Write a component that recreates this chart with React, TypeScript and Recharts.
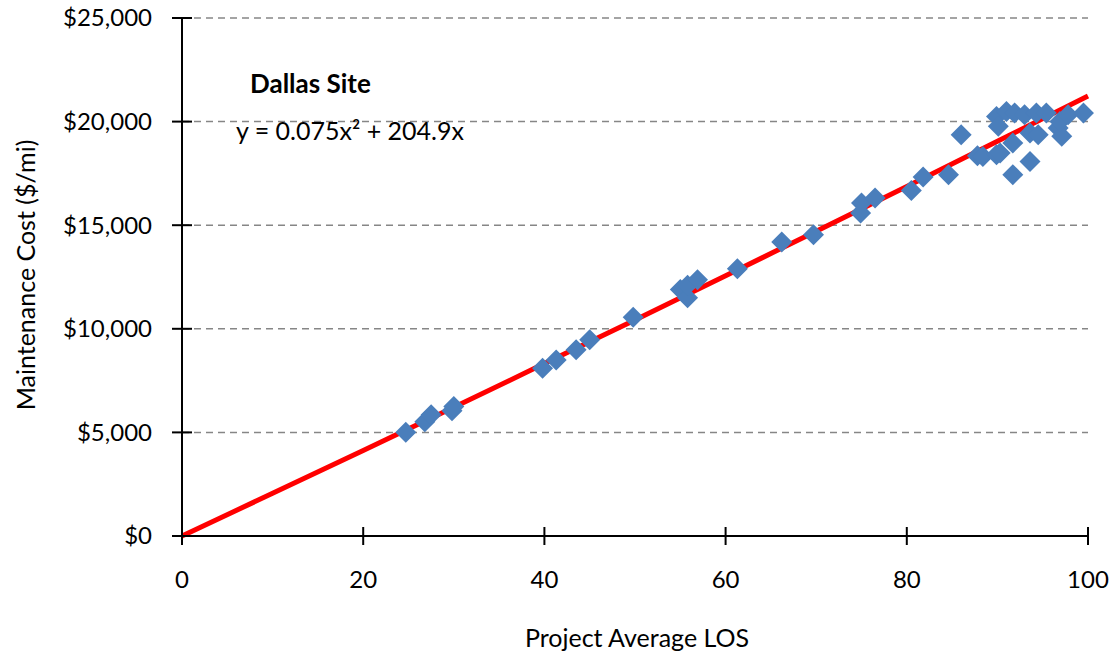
import {
  ScatterChart,
  Scatter,
  XAxis,
  YAxis,
  CartesianGrid,
} from 'recharts';

// project average LOS for each site
const losValues = [
  24.7, 26.8, 27.5, 29.8, 30.0, 39.8, 41.3, 43.5, 45.0, 49.8,
  55.0, 55.8, 55.8, 56.9, 61.3, 66.2, 69.7, 74.9, 75.0, 76.5,
  80.5, 81.8, 84.6, 86.0, 87.8, 88.4, 89.9, 90.3, 89.9, 90.1,
  91.0, 91.9, 91.7, 91.7, 93.0, 93.6, 93.6, 94.3, 94.5, 95.4,
  96.7, 97.1, 96.9, 97.8, 99.5,
];

// maintenance cost ($/mi)
const costValues = [
  5010, 5520, 5850, 6050, 6250, 8100, 8500, 8990, 9470, 10560,
  11900, 11500, 12100, 12370, 12900, 14190, 14540, 15590, 16070, 16310,
  16680, 17330, 17440, 19370, 18350, 18320, 18400, 18480, 20250, 19770,
  20490, 20420, 18970, 17440, 20330, 19450, 18080, 20420, 19370, 20420,
  19690, 19290, 20000, 20330, 20420,
];

// trend line as drawn (red)
const trendLos = [0, 10, 20, 30, 40, 50, 60, 70, 80, 90, 100];
const trendCost = [0, 2060, 4130, 6210, 8320, 10430, 12560, 14710, 16870, 19050, 21240];

const xTicks = [0, 20, 40, 60, 80, 100];
const yTicks = [0, 5000, 10000, 15000, 20000, 25000];

const points = losValues.map((x, i) => ({ x, y: costValues[i] }));
const trend = trendLos.map((x, i) => ({ x, y: trendCost[i] }));

const FONT = 'Lato, sans-serif';

function XTick({ x, y, payload }: any) {
  return (
    <g>
      <line x1={x} x2={x} y1={y - 9} y2={y + 9} stroke="#000" strokeWidth={2} />
      <text x={x} y={y + 44} dy="0.35em" textAnchor="middle" fontSize={24} fontFamily={FONT} fill="#000">
        {payload.value}
      </text>
    </g>
  );
}

function YTick({ x, y, payload }: any) {
  return (
    <g>
      <line x1={x - 10} x2={x + 10} y1={y} y2={y} stroke="#000" strokeWidth={2} />
      <text x={x - 30} y={y} dy="0.35em" textAnchor="end" fontSize={24} fontFamily={FONT} fill="#000">
        {'$' + payload.value.toLocaleString('en-US')}
      </text>
    </g>
  );
}

function Diamond({ cx, cy }: any) {
  const r = 10.5;
  return (
    <path
      d={`M${cx},${cy - r}L${cx + r},${cy}L${cx},${cy + r}L${cx - r},${cy}Z`}
      fill="#4a7ebb"
    />
  );
}

export default function App() {
  return (
    <div style={{ position: 'absolute', left: 0, top: 0, width: 1118, height: 660, background: '#fff' }}>
      <ScatterChart
        width={1118}
        height={660}
        margin={{ top: 18, right: 30, left: 0, bottom: 40 }}
      >
        <CartesianGrid
          vertical={false}
          stroke="#868686"
          strokeWidth={1.5}
          strokeDasharray="7 5"
        />
        <XAxis
          type="number"
          dataKey="x"
          domain={[0, 100]}
          ticks={xTicks}
          height={84}
          tickSize={0}
          tickMargin={0}
          tickLine={false}
          tick={<XTick />}
          axisLine={{ stroke: '#000', strokeWidth: 2 }}
          interval={0}
        />
        <YAxis
          type="number"
          dataKey="y"
          domain={[0, 25000]}
          ticks={yTicks}
          width={182}
          tickSize={0}
          tickMargin={0}
          tickLine={false}
          tick={<YTick />}
          axisLine={{ stroke: '#000', strokeWidth: 2 }}
          interval={0}
        />
        <Scatter
          data={trend}
          line={{ stroke: '#ff0000', strokeWidth: 5 }}
          lineType="joint"
          shape={() => <g />}
          isAnimationActive={false}
        />
        <Scatter data={points} shape={<Diamond />} isAnimationActive={false} />
      </ScatterChart>

      <svg
        width={1118}
        height={660}
        style={{ position: 'absolute', left: 0, top: 0, pointerEvents: 'none' }}
        fontFamily={FONT}
      >
        <text
          x={25}
          y={275}
          transform="rotate(-90 25 275)"
          textAnchor="middle"
          dominantBaseline="central"
          fontSize={25}
          fill="#000"
        >
          Maintenance Cost ($/mi)
        </text>
        <text x={637} y={637} textAnchor="middle" dominantBaseline="central" fontSize={25} fill="#000">
          Project Average LOS
        </text>
        <text x={250} y={83} dominantBaseline="central" fontSize={26} fontWeight="bold" fill="#000">
          Dallas Site
        </text>
        <text x={236} y={130} dominantBaseline="central" fontSize={25} fill="#000">
          y = 0.075x² + 204.9x
        </text>
      </svg>
    </div>
  );
}
